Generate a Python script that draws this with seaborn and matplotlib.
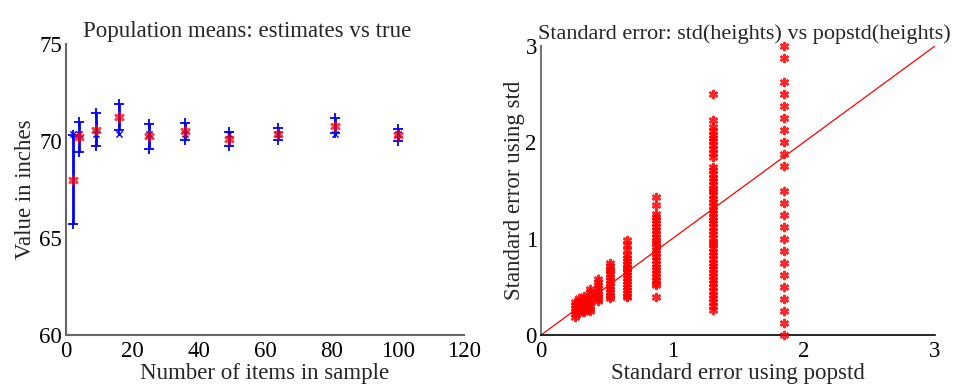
import numpy as np
import pandas as pd
import matplotlib
matplotlib.use("Agg")
import matplotlib.pyplot as plt
import seaborn as sns

# ---------------- data ----------------
sample_sizes = [2, 4, 9, 16, 25, 36, 49, 64, 81, 100]
mean_estimates = [68.0, 70.21, 70.58, 71.25, 70.24, 70.49, 70.09, 70.36, 70.78, 70.32]
stderr_halfwidth = [2.29, 0.79, 0.84, 0.68, 0.63, 0.45, 0.36, 0.31, 0.38, 0.31]
true_mean = 70.37

popstd_se = [1.85, 1.31, 0.873, 0.655, 0.524, 0.437, 0.374, 0.327, 0.291, 0.262]
std_se_n2 = [0.0, 0.125, 0.25, 0.375, 0.5, 0.625, 0.75, 0.875, 1.0, 1.125, 1.25,
             1.375, 1.5, 1.75, 1.875, 2.0, 2.125, 2.25, 2.375, 2.5, 2.625, 2.875, 3.0]
std_se_n4 = [2.50, 2.23, 2.16, 2.12, 2.08, 2.04, 2.01, 1.97, 1.93, 1.89, 1.85,
             1.74, 1.71, 1.67, 1.63, 1.60, 1.56, 1.52, 1.49, 1.45, 1.41, 1.38, 1.34,
             1.30, 1.27, 1.23, 1.19, 1.16, 1.12, 1.08, 1.05, 1.01, 0.97, 0.94, 0.90,
             0.86, 0.83, 0.79, 0.75, 0.72, 0.68, 0.64, 0.61, 0.57, 0.54,
             0.50, 0.46, 0.42, 0.38, 0.34, 0.30, 0.26]
std_se_n9 = [1.43, 1.35, 1.26, 1.23, 1.19, 1.16, 1.12, 1.09, 1.05, 1.02, 0.98, 0.95,
             0.91, 0.88, 0.85, 0.81, 0.78, 0.74, 0.71, 0.67, 0.64, 0.60, 0.57, 0.54,
             0.52, 0.39]
std_se_n16 = [0.99, 0.93, 0.88, 0.83, 0.80, 0.77, 0.74, 0.71, 0.68, 0.65, 0.62, 0.59,
              0.56, 0.53, 0.50, 0.47, 0.44, 0.41, 0.39]
std_se_n25 = [0.75, 0.72, 0.69, 0.66, 0.63, 0.60, 0.57, 0.54, 0.51, 0.48, 0.45, 0.42,
              0.40, 0.38]
std_se_n36 = [0.58, 0.55, 0.52, 0.49, 0.46, 0.43, 0.40, 0.37, 0.35]
std_se_n49 = [0.48, 0.45, 0.42, 0.39, 0.36, 0.33, 0.30, 0.27, 0.25]
std_se_n64 = [0.40, 0.37, 0.34, 0.31, 0.28, 0.26, 0.24]
std_se_n81 = [0.38, 0.35, 0.32, 0.29, 0.26, 0.23]
std_se_n100 = [0.34, 0.31, 0.28, 0.25, 0.22, 0.19]
std_se_columns = [std_se_n2, std_se_n4, std_se_n9, std_se_n16, std_se_n25,
                  std_se_n36, std_se_n49, std_se_n64, std_se_n81, std_se_n100]
diag_line = [0, 3]

# ---------------- styling ----------------
sns.set_style("white")
plt.rcParams['font.family'] = ['Liberation Serif', 'DejaVu Serif']
FS = 16.5

fig = plt.figure(figsize=(9.71, 3.89), dpi=100)
ax1 = fig.add_axes([66/971, 1-335/389, 398/971, 291/389])
ax2 = fig.add_axes([541/971, 1-335/389, 394/971, 289/389])

# ---------------- left panel ----------------
df_means = pd.DataFrame({"n": sample_sizes, "mean": mean_estimates,
                         "half": stderr_halfwidth})
df_means["lo"] = df_means["mean"] - df_means["half"]
df_means["hi"] = df_means["mean"] + df_means["half"]
df_means["true"] = true_mean

ax1.vlines(df_means["n"].to_numpy(dtype=float), df_means["lo"].to_numpy(),
           df_means["hi"].to_numpy(), colors="#0000ff", linewidths=2.0,
           zorder=5, antialiased=True)
sns.scatterplot(data=df_means, x="n", y="lo", marker="+", color="#0000ff", s=60,
                linewidth=1.3, ax=ax1, zorder=3)
sns.scatterplot(data=df_means, x="n", y="hi", marker="+", color="#0000ff", s=60,
                linewidth=1.3, ax=ax1, zorder=3)
sns.scatterplot(data=df_means, x="n", y="true", marker="x", color="#0000ff", s=20,
                linewidth=1.0, ax=ax1, zorder=3)
sns.scatterplot(data=df_means, x="n", y="mean", marker=(6, 2, 0), color="#ff0000",
                s=34, linewidth=2.0, ax=ax1, zorder=6, alpha=0.75)

ax1.set_xlim(0, 120)
ax1.set_ylim(60, 75)
ax1.set_xticks([0, 20, 40, 60, 80, 100, 120])
ax1.set_yticks([60, 65, 70, 75])
ax1.set_xlabel("Number of items in sample", fontsize=FS, labelpad=1)
ax1.set_ylabel("Value in inches", fontsize=FS, labelpad=2)
ax1.set_title("Population means: estimates vs true", fontsize=FS, x=0.455, pad=5)
for sp in ["top", "right"]:
    ax1.spines[sp].set_visible(False)
for sp in ["left", "bottom"]:
    ax1.spines[sp].set_color("#666666")
    ax1.spines[sp].set_linewidth(1.5)
ax1.tick_params(direction="in", length=5, width=0.8, colors="#666666",
                labelcolor="black", labelsize=FS)
ax1.tick_params(axis="x", pad=4)
ax1.tick_params(axis="y", pad=3)

# ---------------- right panel ----------------
rows = []
for xv, col in zip(popstd_se, std_se_columns):
    for yv in col:
        rows.append((xv, yv))
df_se = pd.DataFrame(rows, columns=["popstd_se", "std_se"])

sns.lineplot(x=diag_line, y=diag_line, color="#ff0000", lw=0.9, ax=ax2)
sns.scatterplot(data=df_se, x="popstd_se", y="std_se", marker=(6, 2, 0),
                color="#ff0000", s=26, linewidth=1.8, ax=ax2, zorder=3,
                alpha=0.85, clip_on=False)

ax2.set_xlim(0, 3)
ax2.set_ylim(0, 3)
ax2.set_xticks([0, 1, 2, 3])
ax2.set_yticks([0, 1, 2, 3])
ax2.set_xlabel("Standard error using popstd", fontsize=FS, labelpad=1)
ax2.set_ylabel("Standard error using std", fontsize=FS, labelpad=0)
ax2.set_title("Standard error: std(heights) vs popstd(heights)", fontsize=16,
              x=0.515, pad=5)
for sp in ["top", "right"]:
    ax2.spines[sp].set_visible(False)
ax2.spines["left"].set_color("#777777")
ax2.spines["left"].set_linewidth(1.5)
ax2.spines["bottom"].set_color("black")
ax2.spines["bottom"].set_linewidth(1.2)
ax2.tick_params(direction="in", length=5, width=0.8, colors="#666666",
                labelcolor="black", labelsize=FS)
ax2.tick_params(axis="x", pad=4)
ax2.tick_params(axis="y", pad=3)

fig.savefig("out.png", dpi=100)
